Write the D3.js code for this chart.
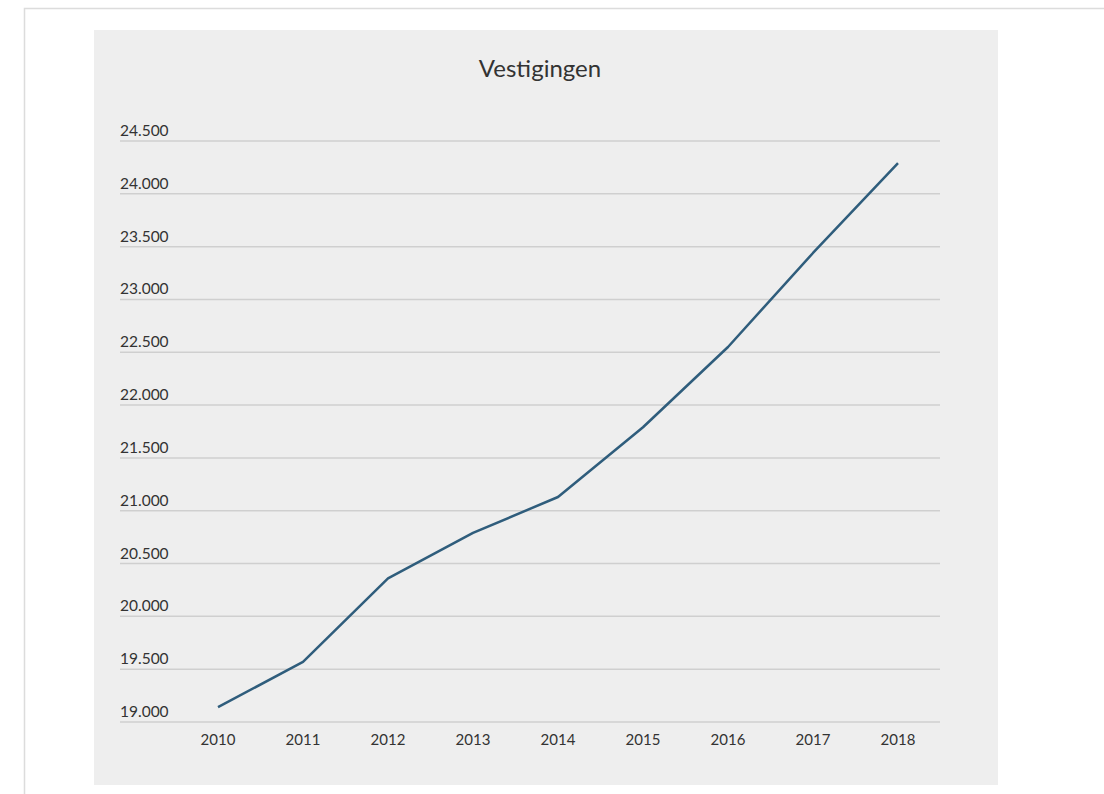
<!DOCTYPE html>
<html>
<head>
<meta charset="utf-8">
<script src="https://cdn.jsdelivr.net/npm/d3@7"></script>
<style>
  body { margin: 0; background: #fff; }
  svg { display: block; font-family: Lato, "Open Sans", sans-serif; }
</style>
</head>
<body>
<svg id="chart" width="1104" height="794"></svg>
<script>
// data
const years = ["2010", "2011", "2012", "2013", "2014", "2015", "2016", "2017", "2018"];
const vestigingen = [19140, 19570, 20360, 20790, 21130, 21790, 22550, 23440, 24290];
const yTicks = [19000, 19500, 20000, 20500, 21000, 21500, 22000, 22500, 23000, 23500, 24000, 24500];
const title = "Vestigingen";

const svg = d3.select("svg#chart");

// outer frame (only top/left edges visible)
svg.append("rect")
    .attr("x", 24.5).attr("y", 8.5)
    .attr("width", 1200).attr("height", 1000)
    .attr("fill", "none").attr("stroke", "#dcdcdc").attr("stroke-width", 1.5);

// gray panel
svg.append("rect")
    .attr("x", 94).attr("y", 30)
    .attr("width", 904).attr("height", 755)
    .attr("fill", "#eeeeee");

svg.append("text")
    .attr("x", 540).attr("y", 77)
    .attr("text-anchor", "middle")
    .attr("font-size", "24px")
    .attr("fill", "#333")
    .text(title);

const gridLeft = 120, gridRight = 940;

const x = d3.scalePoint().domain(years).range([218, 898]);
const y = d3.scaleLinear().domain([19000, 24500]).range([722, 141]);

const fmt = d => d3.format(",")(d).replace(/,/g, ".");

// grid lines
svg.append("g").selectAll("line")
    .data(yTicks)
    .join("line")
    .attr("x1", gridLeft).attr("x2", gridRight)
    .attr("y1", d => y(d)).attr("y2", d => y(d))
    .attr("stroke", "#cfcfcf").attr("stroke-width", 1.5);

// y labels sit above their line
svg.append("g").selectAll("text")
    .data(yTicks)
    .join("text")
    .attr("x", gridLeft).attr("y", d => y(d) - 5)
    .attr("font-size", "15.5px")
    .attr("fill", "#333")
    .text(fmt);

// x labels
svg.append("g").selectAll("text")
    .data(years)
    .join("text")
    .attr("x", d => x(d)).attr("y", 745)
    .attr("text-anchor", "middle")
    .attr("font-size", "15px")
    .attr("fill", "#333")
    .text(d => d);

const line = d3.line()
    .x((d, i) => x(years[i]))
    .y(d => y(d));

svg.append("path")
    .datum(vestigingen)
    .attr("d", line)
    .attr("fill", "none")
    .attr("stroke", "#2f5d7c")
    .attr("stroke-width", 2.5)
    .attr("stroke-linejoin", "round");
</script>
</body>
</html>
